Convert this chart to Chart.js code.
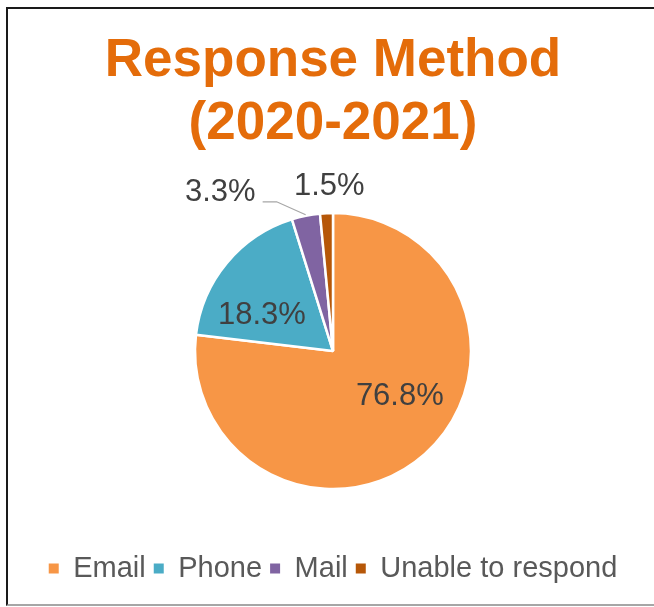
<!DOCTYPE html>
<html lang="en">
<head>
  <meta charset="UTF-8">
  <title>Response Method</title>
  <script src="https://cdn.jsdelivr.net/npm/chart.js"></script>
</head>
<style>
  body {
    margin: 0;
    padding: 0;
    background: #fff;
    overflow: hidden;
  }

  /* frame around the chart, right side runs off the page */
  .frame {
    position: absolute;
    left: 6px;
    top: 7px;
    width: 720px;
    height: 595px;
    border-left: 2px solid #1a1a1a;
    border-top: 2px solid #1a1a1a;
    border-bottom: 2px solid #a6a6a6;
  }

  .wrap {
    position: absolute;
    left: 0;
    top: 0;
    width: 654px;
    height: 607px;
  }
</style>
<body>
<div class="frame"></div>
<div class="wrap">
  <canvas id="pieChart" width="654" height="607"></canvas>
</div>

<script>
  const categories = ['Email', 'Phone', 'Mail', 'Unable to respond'];
  const shares = [76.8, 18.3, 3.3, 1.5];
  const sliceColors = ['#F79646', '#4BACC6', '#8064A2', '#B65708'];
  const titleLines = ['Response Method', '(2020-2021)'];

  // label placement per slice: inside labels get a nudge, outside ones sit past the rim
  const labelPlacement = [
    { mode: 'inside', dx: 21, dy: -6 },
    { mode: 'inside', dx: -18, dy: 8 },
    { mode: 'leader' },
    { mode: 'outside', dx: 4, dy: 0 }
  ];

  const pieLabels = {
    id: 'pieLabels',
    afterDatasetsDraw(chart) {
      const ctx = chart.ctx;
      const arcs = chart.getDatasetMeta(0).data;
      ctx.save();
      ctx.font = '31px "Liberation Sans", Arial, sans-serif';
      ctx.fillStyle = '#404040';
      ctx.textBaseline = 'middle';
      arcs.forEach((arc, i) => {
        const text = shares[i].toFixed(1) + '%';
        const p = labelPlacement[i];
        const mid = (arc.startAngle + arc.endAngle) / 2;
        if (p.mode === 'inside') {
          const pos = arc.tooltipPosition();
          ctx.textAlign = 'center';
          ctx.fillText(text, pos.x + p.dx, pos.y + p.dy);
        } else if (p.mode === 'outside') {
          const r = arc.outerRadius + 27;
          ctx.textAlign = 'center';
          ctx.fillText(text, arc.x + Math.cos(mid) * r + p.dx, arc.y + Math.sin(mid) * r + p.dy);
        } else {
          const r = arc.outerRadius + 1;
          const sx = arc.x + Math.cos(mid) * r;
          const sy = arc.y + Math.sin(mid) * r;
          const ex = sx - 29, ey = sy - 13;
          ctx.strokeStyle = '#a6a6a6';
          ctx.lineWidth = 1.2;
          ctx.beginPath();
          ctx.moveTo(sx, sy);
          ctx.lineTo(ex, ey);
          ctx.lineTo(ex - 14, ey);
          ctx.stroke();
          ctx.textAlign = 'right';
          ctx.fillText(text, ex - 21, ey - 9);
        }
      });
      ctx.restore();
    }
  };

  const ctx = document.getElementById('pieChart').getContext('2d');
  const pieChart = new Chart(ctx, {
    type: 'pie',
    data: {
      labels: categories,
      datasets: [{
        data: shares,
        backgroundColor: sliceColors,
        borderColor: '#ffffff',
        borderWidth: 2.5
      }]
    },
    plugins: [pieLabels],
    options: {
      responsive: false,
      animation: false,
      radius: 138,
      layout: { padding: { left: 12, bottom: 14 } },
      plugins: {
        tooltip: { enabled: false },
        title: {
          display: true,
          text: titleLines,
          color: '#E46C0A',
          font: { family: '"Liberation Sans", Arial, sans-serif', size: 53, weight: 'bold', lineHeight: 1.19 },
          padding: { top: 30, bottom: 0 }
        },
        legend: {
          position: 'bottom',
          labels: {
            color: '#595959',
            font: { family: '"Liberation Sans", Arial, sans-serif', size: 29 },
            boxWidth: 10,
            boxHeight: 10,
            padding: 8,
            generateLabels(chart) {
              const items = Chart.overrides.pie.plugins.legend.labels.generateLabels(chart);
              items.forEach(it => { it.lineWidth = 0; });
              return items;
            }
          }
        }
      }
    }
  });
</script>
</body>
</html>
